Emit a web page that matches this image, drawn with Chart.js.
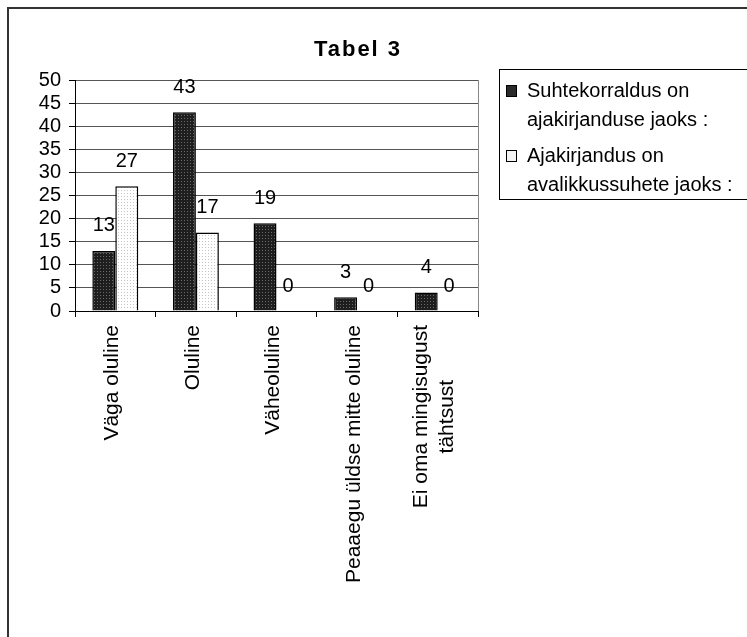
<!DOCTYPE html>
<html>
<head>
<meta charset="utf-8">
<script src="https://cdn.jsdelivr.net/npm/chart.js@4.4.1/dist/chart.umd.min.js"></script>
<style>
    html, body { margin: 0; padding: 0; background: #fff; }
    body { width: 747px; height: 637px; position: relative; overflow: hidden; font-family: "Liberation Sans", Arial, sans-serif; }
    #frame { position: absolute; left: 7px; top: 7px; width: 800px; height: 700px; border: 2px solid #333; }
    #chartWrap { position: absolute; left: 0; top: 0; width: 747px; height: 637px; }
    #title { position: absolute; left: 258px; width: 200px; top: 38px; text-align: center; font-weight: bold; font-size: 22px; line-height: 22px; letter-spacing: 2px; color: #000; }
    #legend { position: absolute; left: 499px; top: 69px; width: 250px; height: 131px; border: 1px solid #000; box-sizing: border-box; padding-top: 6px; }
    .item { position: relative; padding-left: 27px; font-size: 20px; line-height: 29px; color: #000; margin-bottom: 7px; }
    .box { position: absolute; left: 6px; top: 9px; width: 9px; height: 10px; border: 1px solid #000; }
</style>
</head>
<body>
<div id="frame"></div>
<div id="chartWrap"><canvas id="chart" width="747" height="637"></canvas></div>
<div id="title">Tabel 3</div>
<div id="legend"></div>
<script>
// ===== DATA =====
const categories = [
    'Väga oluline',
    'Oluline',
    'Väheoluline',
    'Peaaegu üldse mitte oluline',
    ['Ei oma mingisugust', 'tähtsust']
];
const seriesNames = [
    ['Suhtekorraldus on', 'ajakirjanduse jaoks :'],
    ['Ajakirjandus on', 'avalikkussuhete jaoks :']
];
const suhtekorraldusValues = [13, 43, 19, 3, 4];
const ajakirjandusValues = [27, 17, 0, 0, 0];
const yMin = 0;
const yMax = 50;
const yStep = 5;

const FONT = '"Liberation Sans", Arial, sans-serif';

// small dotted fills like the old office pattern
function makePattern(base, dot) {
    const c = document.createElement('canvas');
    c.width = 3;
    c.height = 3;
    const g = c.getContext('2d');
    g.fillStyle = base;
    g.fillRect(0, 0, 3, 3);
    g.fillStyle = dot;
    g.fillRect(1, 1, 1, 1);
    return g.createPattern(c, 'repeat');
}

const darkFill = makePattern('#1e1e1e', '#6a6a6a');
const lightFill = makePattern('#ffffff', '#c4c4c4');

// value labels above bars
const valueLabels = {
    id: 'valueLabels',
    afterDatasetsDraw(chart) {
        const ctx = chart.ctx;
        ctx.save();
        ctx.font = '20px ' + FONT;
        ctx.fillStyle = '#000';
        ctx.textAlign = 'center';
        ctx.textBaseline = 'middle';
        chart.data.datasets.forEach((ds, i) => {
            const meta = chart.getDatasetMeta(i);
            meta.data.forEach((bar, j) => {
                ctx.fillText(String(ds.data[j]), bar.x, bar.y - 25);
            });
        });
        ctx.restore();
    }
};

// vertical category labels, lines centred on each other like the original
const categoryLabels = {
    id: 'categoryLabels',
    afterDraw(chart) {
        const ctx = chart.ctx;
        const xs = chart.scales.x;
        const area = chart.chartArea;
        ctx.save();

        // plot area right edge
        ctx.strokeStyle = '#888';
        ctx.lineWidth = 1;
        ctx.beginPath();
        ctx.moveTo(Math.round(area.right) + 0.5, area.top);
        ctx.lineTo(Math.round(area.right) + 0.5, area.bottom);
        ctx.stroke();

        ctx.font = '21px ' + FONT;
        ctx.fillStyle = '#000';
        ctx.textAlign = 'center';
        ctx.textBaseline = 'middle';
        const lineH = 26;
        categories.forEach((lab, i) => {
            const lines = Array.isArray(lab) ? lab : [lab];
            const cx = xs.getPixelForValue(i);
            const maxW = Math.max(...lines.map(l => ctx.measureText(l).width));
            const yc = xs.top + 14 + maxW / 2;
            lines.forEach((l, k) => {
                const x = cx - 3 + (k - (lines.length - 1) / 2) * lineH;
                ctx.save();
                ctx.translate(x, yc);
                ctx.rotate(-Math.PI / 2);
                ctx.fillText(l, 0, 0);
                ctx.restore();
            });
        });
        ctx.restore();
    }
};

new Chart(document.getElementById('chart'), {
    type: 'bar',
    data: {
        labels: categories,
        datasets: [{
            label: seriesNames[0].join(' '),
            data: suhtekorraldusValues,
            backgroundColor: darkFill,
            borderColor: '#000',
            borderWidth: 1.5
        }, {
            label: seriesNames[1].join(' '),
            data: ajakirjandusValues,
            backgroundColor: lightFill,
            borderColor: '#000',
            borderWidth: 1.5
        }]
    },
    options: {
        responsive: false,
        animation: false,
        devicePixelRatio: 1,
        layout: { padding: { top: 80, right: 269, left: 0, bottom: 0 } },
        datasets: { bar: { categoryPercentage: 0.57, barPercentage: 1 } },
        plugins: {
            legend: { display: false },
            title: { display: false },
            tooltip: { enabled: false }
        },
        scales: {
            x: {
                offset: true,
                afterFit(scale) { scale.height = 326; },
                grid: { offset: true, drawOnChartArea: false, color: '#000', tickLength: 6 },
                border: { color: '#000', width: 1 },
                ticks: { display: false, autoSkip: false }
            },
            y: {
                min: yMin,
                max: yMax,
                afterFit(scale) { scale.width = 75; },
                grid: { color: '#555', tickColor: '#000', tickLength: 6 },
                border: { color: '#000', width: 1 },
                ticks: {
                    stepSize: yStep,
                    autoSkip: false,
                    padding: 8,
                    color: '#000',
                    font: { family: FONT, size: 20 }
                }
            }
        }
    },
    plugins: [valueLabels, categoryLabels]
});

// HTML legend
const legendEl = document.getElementById('legend');
const legendFills = ['#2a2a2a', '#f4f4f4'];
seriesNames.forEach((lines, i) => {
    const item = document.createElement('div');
    item.className = 'item';
    item.innerHTML = `<span class="box" style="background:${legendFills[i]}"></span>${lines.join('<br>')}`;
    legendEl.appendChild(item);
});
</script>
</body>
</html>
